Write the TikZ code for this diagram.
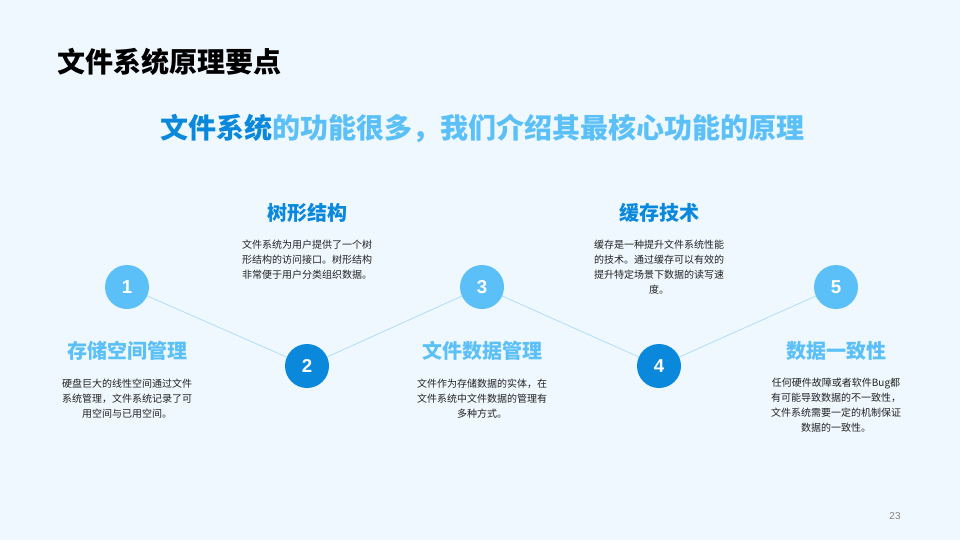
\documentclass[tikz,border=0pt]{standalone}
\usepackage{fontspec}
\setmainfont{Noto Sans CJK SC}
\newfontfamily\numfont{Liberation Sans}
\usetikzlibrary{positioning}

\definecolor{pagebg}{HTML}{EFF8FE}
\definecolor{deepblue}{HTML}{0A88DC}
\definecolor{skyblue}{HTML}{5BC0F8}
\definecolor{linkblue}{HTML}{B0DEF8}
\definecolor{bodygray}{HTML}{222222}

\begin{document}
\begin{tikzpicture}[
  x=0.75pt,y=-0.75pt,
  node distance=11pt,
  numdot/.style={circle,minimum size=33pt,inner sep=0pt,text=white,font=\numfont\bfseries\fontsize{14}{14}\selectfont},
  heading/.style={font=\bfseries\fontsize{15}{18}\selectfont,inner sep=1pt},
  bodytext/.style={align=center,font=\fontsize{7.5}{11.25}\selectfont,text=bodygray,inner sep=1pt},
  link/.style={linkblue,line width=0.6pt}
]
  \fill[pagebg] (0,0) rectangle (960,540);
  \useasboundingbox (0,0) rectangle (960,540);

  % titles
  \node[anchor=west,inner sep=0pt,font=\bfseries\fontsize{21}{24}\selectfont] (title) at (57,62) {文件系统原理要点};
  \node[inner sep=0pt,font=\bfseries\fontsize{21}{24}\selectfont,text=skyblue] (subtitle) at (482,128)
    {\textcolor{deepblue}{文件系统}的功能很多，我们介绍其最核心功能的原理};

  % step circles
  \node[numdot,fill=skyblue] (n1) at (127,287) {1};
  \node[numdot,fill=deepblue] (n2) at (307,366) {2};
  \node[numdot,fill=skyblue] (n3) at (482,287) {3};
  \node[numdot,fill=deepblue] (n4) at (659,366) {4};
  \node[numdot,fill=skyblue] (n5) at (836,287) {5};

  \draw[link] (n1) -- (n2);
  \draw[link] (n2) -- (n3);
  \draw[link] (n3) -- (n4);
  \draw[link] (n4) -- (n5);

  % upper items
  \node[heading,text=deepblue] (h2) at (307,213) {树形结构};
  \node[bodytext,below=of h2] (t2) {文件系统为用户提供了一个树\\形结构的访问接口。树形结构\\非常便于用户分类组织数据。};
  \node[heading,text=deepblue] (h4) at (659,213) {缓存技术};
  \node[bodytext,below=of h4] (t4) {缓存是一种提升文件系统性能\\的技术。通过缓存可以有效的\\提升特定场景下数据的读写速\\度。};

  % lower items
  \node[heading,text=skyblue] (h1) at (127,351) {存储空间管理};
  \node[bodytext,below=of h1] (t1) {硬盘巨大的线性空间通过文件\\系统管理，文件系统记录了可\\用空间与已用空间。};
  \node[heading,text=skyblue] (h3) at (482,351) {文件数据管理};
  \node[bodytext,below=of h3] (t3) {文件作为存储数据的实体，在\\文件系统中文件数据的管理有\\多种方式。};
  \node[heading,text=skyblue] (h5) at (836,351) {数据一致性};
  \node[bodytext,below=of h5] (t5) {任何硬件故障或者软件Bug都\\有可能导致数据的不一致性，\\文件系统需要一定的机制保证\\数据的一致性。};

  % page number
  \node[font=\numfont\fontsize{7.5}{9}\selectfont,text=gray] (page) at (895,516) {23};
\end{tikzpicture}
\end{document}
